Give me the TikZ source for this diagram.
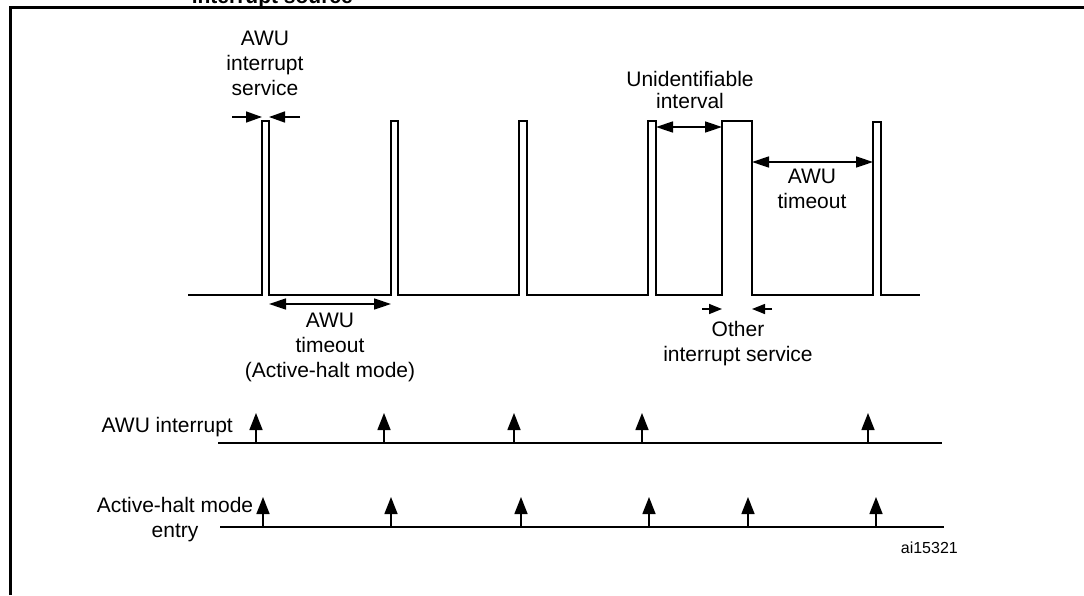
\documentclass[tikz,border=0pt]{standalone}
\usepackage{fontspec}
\setmainfont{Liberation Sans}
\usetikzlibrary{arrows.meta}
\begin{document}
\begin{tikzpicture}[x=1pt,y=-1pt,
  lbl/.style={font=\fontsize{21}{25}\selectfont, inner sep=0pt, align=center, anchor=base},
  small/.style={font=\fontsize{16}{19}\selectfont, inner sep=0pt, anchor=base east},
  wave/.style={line width=1.5pt, line join=miter},
  dim/.style={line width=1.5pt, {Triangle[length=17pt,width=11pt]}-{Triangle[length=17pt,width=11pt]}},
  inarr/.style={line width=1.5pt, -{Triangle[length=16pt,width=11pt]}},
  inarrs/.style={line width=1.5pt, -{Triangle[length=13pt,width=10pt]}},
  uparr/.style={line width=1.5pt, -{Triangle[length=17pt,width=13pt]}},
  tline/.style={line width=2.5pt},
  frame/.style={line width=2.5pt}]
\useasboundingbox (0,0) rectangle (1084,595);
% clipped title
\begin{scope}
  \clip (0,0) rectangle (1084,6.5);
  \node[font=\bfseries\fontsize{21}{25}\selectfont, inner sep=0pt, anchor=base east] (title) at (353,3.5) {interrupt source};
\end{scope}
% frame
\coordinate (fbl) at (10.5,595);
\coordinate (ftl) at (10.5,7.7);
\coordinate (ftr) at (1084,7.7);
\draw[frame] (fbl) -- (ftl) -- (ftr);
% waveform
\draw[wave] (188,295) -- (262,295) -- (262,121) -- (269,121) -- (269,295)
  -- (391,295) -- (391,121) -- (398,121) -- (398,295)
  -- (519,295) -- (519,121) -- (527,121) -- (527,295)
  -- (648,295) -- (648,121) -- (656,121) -- (656,295)
  -- (722,295) -- (722,121) -- (752,121) -- (752,295)
  -- (873,295) -- (873,122) -- (881,122) -- (881,295) -- (920,295);
% AWU interrupt service
\node[lbl] (svc) at (265,95) {AWU\\interrupt\\service};
\coordinate (s1a) at (232,117); \coordinate (s1b) at (262,117);
\coordinate (s2a) at (300,117); \coordinate (s2b) at (269,117);
\draw[inarr] (s1a) -- (s1b);
\draw[inarr] (s2a) -- (s2b);
% AWU timeout (Active-halt mode)
\coordinate (t1a) at (269,304); \coordinate (t1b) at (391,304);
\draw[dim] (t1a) -- (t1b);
\node[lbl] (tmo1) at (330,377) {AWU\\timeout\\(Active-halt mode)};
% Unidentifiable interval
\node[lbl, font=\fontsize{21}{22}\selectfont] (unid) at (690,108.5) {Unidentifiable\\interval};
\coordinate (u1a) at (656,127); \coordinate (u1b) at (722,127);
\draw[dim] (u1a) -- (u1b);
% AWU timeout right
\coordinate (t2a) at (752,162); \coordinate (t2b) at (873,162);
\draw[dim] (t2a) -- (t2b);
\node[lbl] (tmo2) at (812,208) {AWU\\timeout};
% Other interrupt service
\coordinate (o1a) at (702,309); \coordinate (o1b) at (722,309);
\coordinate (o2a) at (772,309); \coordinate (o2b) at (752,309);
\draw[inarrs] (o1a) -- (o1b);
\draw[inarrs] (o2a) -- (o2b);
\node[lbl] (oth) at (738,361) {Other\\interrupt service};
% AWU interrupt timeline
\node[lbl, anchor=base east] (awuint) at (233,432) {AWU interrupt};
\coordinate (l1a) at (218,443); \coordinate (l1b) at (942,443);
\draw[tline] (l1a) -- (l1b);
\foreach \i/\x in {1/256,2/384,3/514,4/642,5/868} {
  \coordinate (ab\i) at (\x,443);
  \coordinate (at\i) at (\x,413);
  \draw[uparr] (ab\i) -- (at\i);
}
% Active-halt mode entry timeline
\node[lbl] (ahm) at (175,537) {Active-halt mode\\entry};
\coordinate (l2a) at (220,527); \coordinate (l2b) at (944,527);
\draw[tline] (l2a) -- (l2b);
\foreach \i/\x in {1/263,2/391,3/521,4/649,5/748,6/876} {
  \coordinate (hb\i) at (\x,527);
  \coordinate (ht\i) at (\x,497);
  \draw[uparr] (hb\i) -- (ht\i);
}
\node[small] (code) at (958,553) {ai15321};
\end{tikzpicture}
\end{document}
